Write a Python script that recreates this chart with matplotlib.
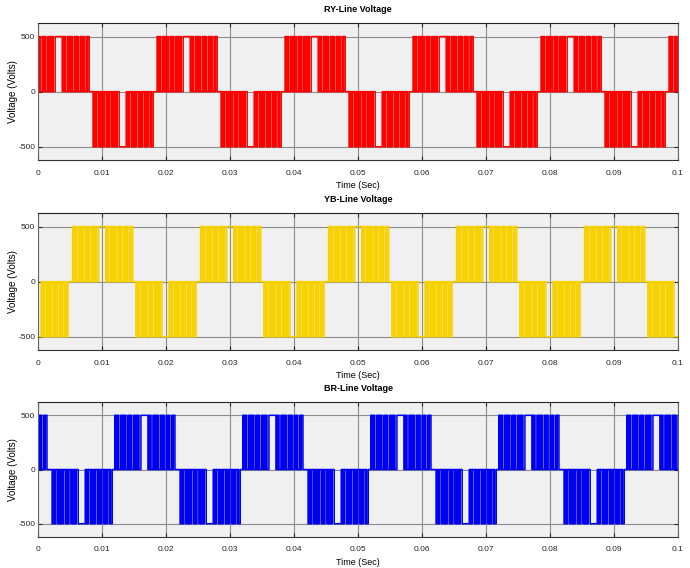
import numpy as np
import matplotlib.pyplot as plt

plt.rcParams['font.family'] = ['Liberation Sans Narrow', 'Liberation Sans', 'DejaVu Sans']
plt.rcParams['axes.unicode_minus'] = False

# switching pattern of one half-cycle block, (on, off) times in ms from block start
pulse_on = [0.00, 0.24, 0.48, 0.90, 1.14, 1.38, 1.62, 2.04, 2.28, 2.52, 2.94, 3.18, 3.42, 3.66,
            4.08, 5.30, 5.54, 5.96, 6.20, 6.44, 6.68, 7.10, 7.34, 7.58, 8.00, 8.24, 8.48, 8.90,
            9.14]
pulse_off = [0.12, 0.36, 0.60, 1.02, 1.26, 1.50, 1.74, 2.16, 2.40, 2.64, 3.06, 3.30, 3.54, 3.78,
             5.18, 5.42, 5.66, 6.08, 6.32, 6.56, 6.80, 7.22, 7.46, 7.70, 8.12, 8.36, 8.60, 9.02,
             9.40]

vdc = 500

# block start times (s) for positive and negative half-cycles of each line voltage
ry_pos = [-0.0014, 0.0186, 0.0386, 0.0586, 0.0786, 0.0986]
ry_neg = [-0.0114, 0.0086, 0.0286, 0.0486, 0.0686, 0.0886]
yb_pos = [-0.0146, 0.0054, 0.0254, 0.0454, 0.0654, 0.0854]
yb_neg = [-0.0047, 0.0153, 0.0353, 0.0553, 0.0753, 0.0953]
br_pos = [-0.0080, 0.0120, 0.0320, 0.0520, 0.0720, 0.0920]
br_neg = [0.0022, 0.0222, 0.0422, 0.0622, 0.0822]

titles = ['RY-Line Voltage', 'YB-Line Voltage', 'BR-Line Voltage']
colors = ['#ff0000', '#f7d200', '#0000f0']
xticks = [0, 0.01, 0.02, 0.03, 0.04, 0.05, 0.06, 0.07, 0.08, 0.09, 0.1]
xticklabels = ['0', '0.01', '0.02', '0.03', '0.04', '0.05', '0.06', '0.07', '0.08', '0.09', '0.1']
yticks = [-500, 0, 500]


def build_wave(pos, neg):
    blocks = sorted([(s, 1) for s in pos] + [(s, -1) for s in neg])
    t = [blocks[0][0] - 0.001]
    v = [0]
    for start, sign in blocks:
        for a, b in zip(pulse_on, pulse_off):
            ta = start + a / 1000.0
            tb = start + b / 1000.0
            t += [ta, ta, tb, tb]
            v += [0, sign * vdc, sign * vdc, 0]
    t.append(0.12)
    v.append(0)
    return np.array(t), np.array(v)


waves = [build_wave(ry_pos, ry_neg), build_wave(yb_pos, yb_neg), build_wave(br_pos, br_neg)]

fig = plt.figure(figsize=(6.9, 5.68), dpi=100)
rects = [[0.0551, 0.7183, 0.9275, 0.2407],
         [0.0551, 0.3838, 0.9275, 0.2407],
         [0.0551, 0.0551, 0.9275, 0.2366]]

for i in range(3):
    ax = fig.add_axes(rects[i])
    ax.set_facecolor('#f0f0f0')
    t, v = waves[i]
    ax.plot(t, v, color=colors[i], lw=1.1)
    ax.set_xlim(0, 0.1)
    ax.set_ylim(-620, 620)
    ax.set_xticks(xticks)
    ax.set_xticklabels(xticklabels)
    ax.set_yticks(yticks)
    ax.grid(True, color='#8c8c8c', lw=0.8)
    ax.set_axisbelow(True)
    ax.tick_params(direction='in', length=3, top=True, right=True, labelsize=6,
                   colors='#262626')
    ax.tick_params(axis='x', pad=7)
    ax.tick_params(axis='y', pad=2)
    for s in ax.spines.values():
        s.set_color('#666666')
        s.set_linewidth(0.8)
    ax.spines['top'].set_color('#222222')
    ax.spines['bottom'].set_color('#333333')
    ax.set_title(titles[i], fontsize=6.5, fontweight='bold', pad=8)
    ax.set_xlabel('Time (Sec)', fontsize=6.5, labelpad=3)
    ax.set_ylabel('Voltage (Volts)', fontsize=7)
    ax.yaxis.set_label_coords(-0.031, 0.5)

fig.savefig('out.png', dpi=100, facecolor='white')
